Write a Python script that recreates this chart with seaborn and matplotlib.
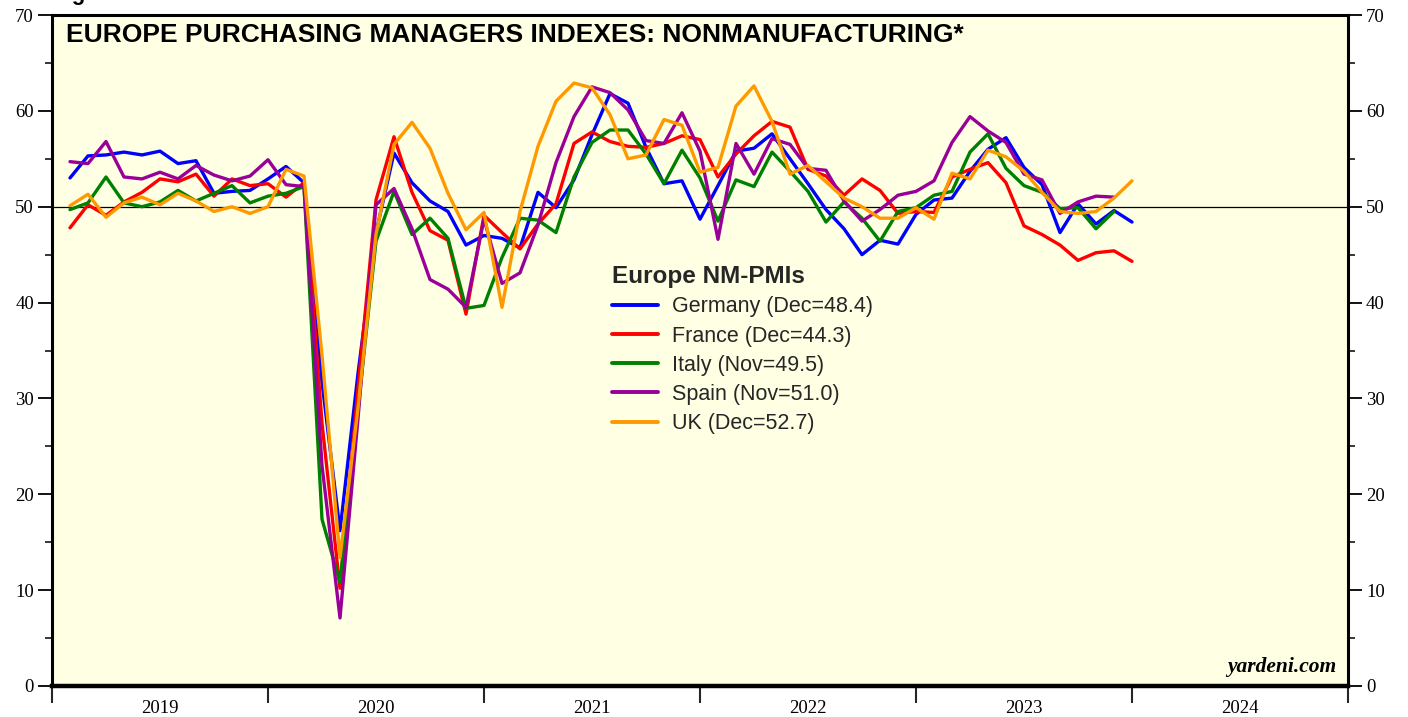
import numpy as np
import pandas as pd
import matplotlib
matplotlib.use("Agg")
import matplotlib.pyplot as plt
from matplotlib.lines import Line2D
from matplotlib.ticker import MultipleLocator, FixedLocator, NullFormatter, FixedFormatter
import seaborn as sns

# ---------------- data (monthly, Jan 2019 .. Dec 2023) ----------------
germany = [53.0, 55.3, 55.4, 55.7, 55.4, 55.8, 54.5, 54.8, 51.4, 51.6, 51.7, 52.9,
           54.2, 52.5, 31.7, 16.2, 32.6, 47.3, 55.6, 52.5, 50.6, 49.5, 46.0, 47.0,
           46.7, 45.7, 51.5, 49.9, 52.8, 57.5, 61.8, 60.8, 56.2, 52.4, 52.7, 48.7,
           52.2, 55.8, 56.1, 57.6, 55.0, 52.4, 49.7, 47.7, 45.0, 46.5, 46.1, 49.2,
           50.7, 50.9, 53.7, 56.0, 57.2, 54.1, 52.3, 47.3, 50.3, 48.2, 49.6, 48.4]
france = [47.8, 50.2, 49.1, 50.5, 51.5, 52.9, 52.6, 53.4, 51.1, 52.9, 52.2, 52.4,
          51.0, 52.5, 27.4, 10.2, 31.1, 50.7, 57.3, 51.5, 47.5, 46.5, 38.8, 49.1,
          47.3, 45.6, 48.2, 50.3, 56.6, 57.8, 56.8, 56.3, 56.2, 56.6, 57.4, 57.0,
          53.1, 55.5, 57.4, 58.9, 58.3, 53.9, 53.2, 51.2, 52.9, 51.7, 49.3, 49.5,
          49.4, 53.1, 53.9, 54.6, 52.5, 48.0, 47.1, 46.0, 44.4, 45.2, 45.4, 44.3]
italy = [49.7, 50.4, 53.1, 50.4, 50.0, 50.5, 51.7, 50.6, 51.4, 52.2, 50.4, 51.1,
         51.4, 52.1, 17.4, 10.8, 28.9, 46.4, 51.6, 47.1, 48.8, 46.7, 39.4, 39.7,
         44.7, 48.8, 48.6, 47.3, 53.1, 56.7, 58.0, 58.0, 55.5, 52.4, 55.9, 53.0,
         48.5, 52.8, 52.1, 55.7, 53.7, 51.6, 48.4, 50.5, 48.8, 46.4, 49.5, 49.9,
         51.2, 51.6, 55.7, 57.6, 54.0, 52.2, 51.5, 49.8, 49.9, 47.7, 49.5, np.nan]
spain = [54.7, 54.5, 56.8, 53.1, 52.9, 53.6, 52.9, 54.3, 53.3, 52.7, 53.2, 54.9,
         52.3, 52.1, 23.0, 7.1, 27.9, 50.2, 51.9, 47.7, 42.4, 41.4, 39.5, 48.7,
         42.0, 43.1, 48.1, 54.6, 59.4, 62.5, 61.9, 60.1, 56.9, 56.6, 59.8, 55.8,
         46.6, 56.6, 53.4, 57.1, 56.5, 54.0, 53.8, 50.6, 48.5, 49.7, 51.2, 51.6,
         52.7, 56.7, 59.4, 57.9, 56.7, 53.4, 52.8, 49.3, 50.5, 51.1, 51.0, np.nan]
uk = [50.1, 51.3, 48.9, 50.4, 51.0, 50.2, 51.4, 50.6, 49.5, 50.0, 49.3, 50.0,
      53.9, 53.2, 34.5, 13.4, 29.0, 47.1, 56.5, 58.8, 56.1, 51.4, 47.6, 49.4,
      39.5, 49.5, 56.3, 61.0, 62.9, 62.4, 59.6, 55.0, 55.4, 59.1, 58.5, 53.6,
      54.1, 60.5, 62.6, 58.9, 53.4, 54.3, 52.6, 50.9, 50.0, 48.8, 48.8, 49.9,
      48.7, 53.5, 52.9, 55.9, 55.2, 53.7, 51.5, 49.5, 49.3, 49.5, 50.9, 52.7]

series_names = ["Germany (Dec=48.4)", "France (Dec=44.3)", "Italy (Nov=49.5)",
                "Spain (Nov=51.0)", "UK (Dec=52.7)"]
series_values = [germany, france, italy, spain, uk]
series_colors = ["#0000FF", "#FF0000", "#008000", "#990099", "#FF9900"]
years = [2019, 2020, 2021, 2022, 2023, 2024]
year_labels = ["2019", "2020", "2021", "2022", "2023", "2024"]
title = "EUROPE PURCHASING MANAGERS INDEXES: NONMANUFACTURING*"
legend_title = "Europe NM-PMIs"

# month-end positions as fractional years
n = len(germany)
xpos = [2019 + (i + 1) / 12 for i in range(n)]

frames = []
for name, vals in zip(series_names, series_values):
    frames.append(pd.DataFrame({"x": xpos, "value": vals, "series": name}))
df = pd.concat(frames, ignore_index=True).dropna()

# ---------------- figure ----------------
sns.set_theme(style="white")
plt.rcParams["font.family"] = ["Liberation Sans", "DejaVu Sans"]

fig = plt.figure(figsize=(14.08, 7.17), dpi=100)
ax = fig.add_axes([52 / 1408, 31 / 717, 1296 / 1408, 671 / 717])
ax.set_facecolor("#FFFFE3")

sns.lineplot(data=df, x="x", y="value", hue="series", hue_order=series_names,
             palette=dict(zip(series_names, series_colors)), linewidth=2.4,
             legend=False, ax=ax, sort=False, estimator=None)

ax.axhline(50, color="black", linewidth=0.9, zorder=1)

ax.set_xlim(2019, 2025)
ax.set_ylim(0, 70)
ax.set_xlabel("")
ax.set_ylabel("")

# y axis: both sides
ax.yaxis.set_major_locator(MultipleLocator(10))
ax.yaxis.set_minor_locator(MultipleLocator(5))
ax.tick_params(axis="y", which="major", direction="out", length=10, width=1.3,
               left=True, right=True, labelleft=True, labelright=True,
               labelsize=13.5, pad=3, colors="black")
ax.tick_params(axis="y", which="minor", direction="out", length=5, width=1.3,
               left=True, right=True)
for lab in ax.get_yticklabels():
    lab.set_fontfamily("Liberation Serif")

# x axis: year boundary ticks, labels centered between
ax.xaxis.set_major_locator(FixedLocator(years + [2025]))
ax.xaxis.set_major_formatter(NullFormatter())
ax.xaxis.set_minor_locator(FixedLocator([y + 0.5 for y in years]))
ax.xaxis.set_minor_formatter(FixedFormatter(year_labels))
ax.tick_params(axis="x", which="major", direction="out", length=12, width=1.5,
               bottom=True, top=False)
ax.tick_params(axis="x", which="minor", length=0, labelsize=13.5, pad=10,
               colors="black")
for lab in ax.get_xticklabels(minor=True):
    lab.set_fontfamily("Liberation Serif")

for side in ["left", "right", "top"]:
    ax.spines[side].set_visible(True)
    ax.spines[side].set_color("black")
    ax.spines[side].set_linewidth(2.2)
ax.spines["bottom"].set_visible(True)
ax.spines["bottom"].set_color("black")
ax.spines["bottom"].set_linewidth(3.2)

# title inside plot
ax.text(0.0108, 0.970, title, transform=ax.transAxes, ha="left", va="center",
        fontsize=19, fontweight="bold", color="black",
        family=["Liberation Sans", "DejaVu Sans"])

# watermark
ax.text(0.9907, 0.013, "yardeni.com", transform=ax.transAxes, ha="right",
        va="bottom", fontsize=15.5, fontweight="bold", fontstyle="italic",
        family=["Liberation Serif", "DejaVu Serif"], color="black")

# figure label cut off at the very top (only descender visible, as in source)
fig.text(52 / 1408, 1.0, "Figure 1.", ha="left", va="baseline",
         fontsize=16, fontweight="bold", color="black")

# legend
handles = [Line2D([0], [0], color=c, linewidth=2.8) for c in series_colors]
leg = ax.legend(handles, series_names, title=legend_title, loc="upper left",
                bbox_to_anchor=(0.432, 0.627), frameon=False, fontsize=15.5,
                handlelength=2.14, handletextpad=0.65, labelspacing=0.38,
                borderpad=0, borderaxespad=0, alignment="left")
leg.get_title().set_fontweight("bold")
leg.get_title().set_fontsize(17.5)

fig.savefig("out.png", dpi=100, facecolor="white")
